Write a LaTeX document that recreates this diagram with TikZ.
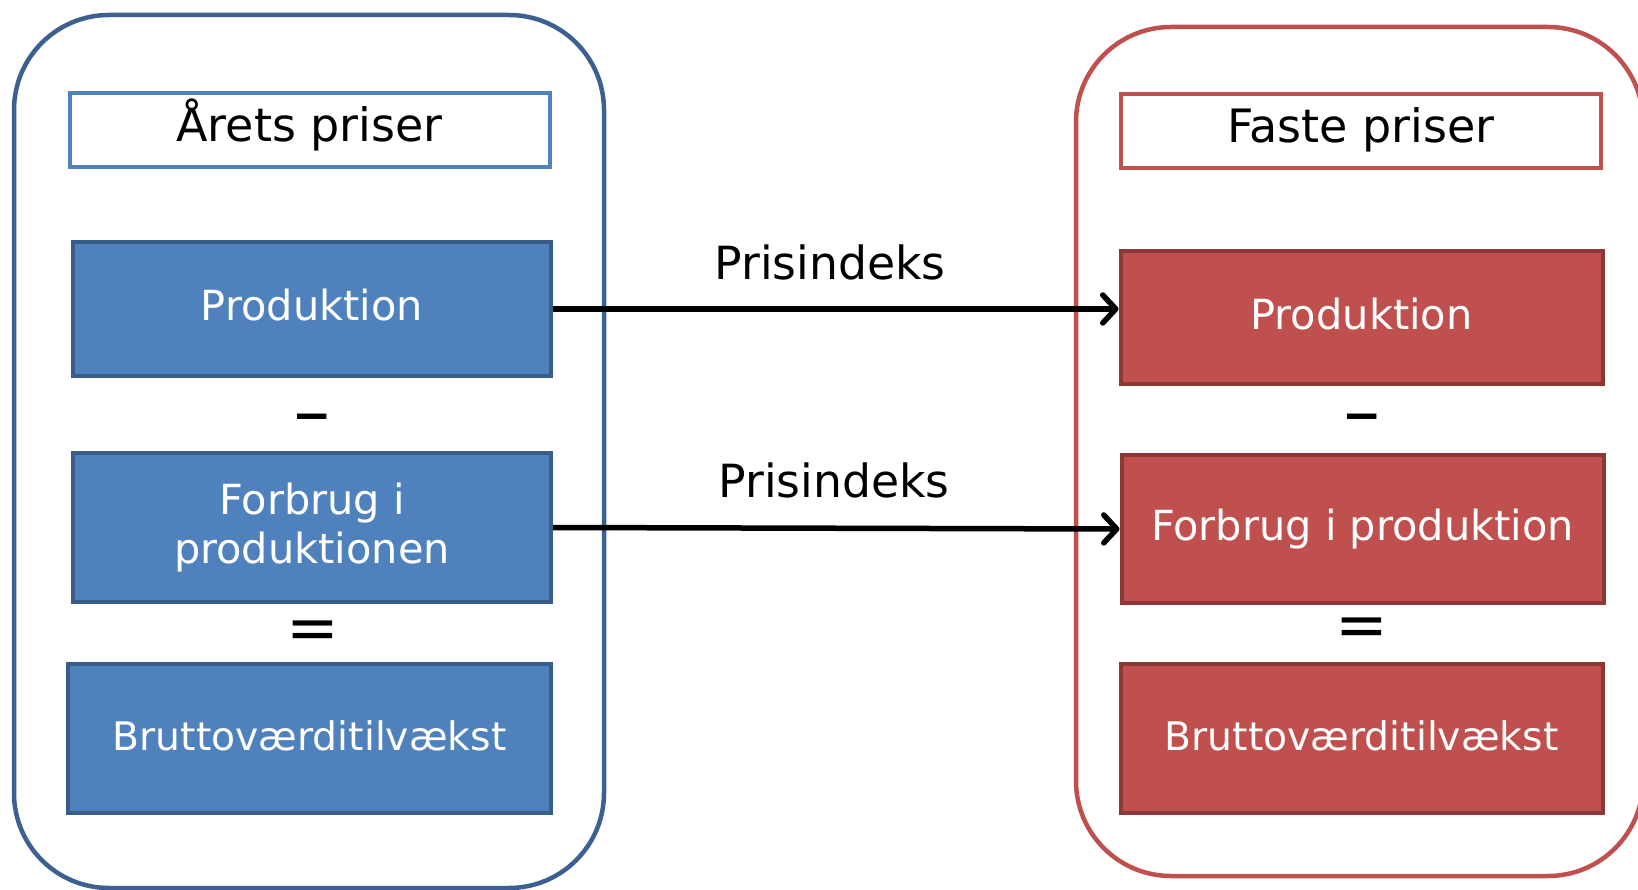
\documentclass[tikz,border=0pt]{standalone}
\usepackage{fontspec}
\setmainfont{DejaVu Sans}
\usetikzlibrary{arrows.meta}
\definecolor{bluefill}{HTML}{4F81BD}
\definecolor{blueline}{HTML}{385D8A}
\definecolor{outerblue}{HTML}{3C6191}
\definecolor{redfill}{HTML}{C0504D}
\definecolor{redline}{HTML}{8C3836}
\definecolor{outerred}{HTML}{C0504D}
\tikzset{
  outerbox/.style={line width=4.5pt, rounded corners=95pt},
  titlebox/.style={draw, line width=4pt, fill=white, inner sep=0pt, minimum width=480pt, minimum height=74pt, text height=35pt, text depth=13pt, font=\fontsize{46}{55}\selectfont},
  bluebox/.style={draw=blueline, fill=bluefill, line width=4pt, text=white, inner sep=0pt, align=center, minimum width=478pt},
  redbox/.style={draw=redline, fill=redfill, line width=4pt, text=white, inner sep=0pt, align=center, minimum width=482pt},
  boxtext/.style={font=\fontsize{41.5}{49}\selectfont},
  raised/.style={text height=32pt, text depth=8pt},
  bruttotext/.style={font=\fontsize{39.3}{47}\selectfont, text height=30pt, text depth=6pt},
  lbl/.style={font=\fontsize{45.7}{55}\selectfont, anchor=base, inner sep=0pt},
  minussign/.style={font=\bfseries\fontsize{47}{50}\selectfont, anchor=base, inner sep=0pt},
  eqsign/.style={font=\fontsize{63}{66}\selectfont, anchor=base, inner sep=0pt},
  conn/.style={line width=5.5pt, -{Straight Barb[length=13pt,width=28pt,line cap=round,line join=round]}}
}
\begin{document}
\begin{tikzpicture}[x=1pt,y=-1pt]
\clip (0,0) rectangle (1638,890);
\fill[white] (0,0) rectangle (1638,890);
% containers
\draw[outerbox, draw=outerblue] (14,15) rectangle (604,888);
\draw[outerbox, draw=outerred] (1076,27) rectangle (1643,876);
% titles
\node[titlebox, draw=bluefill] (lt) at (309.5,130.5) {Årets priser};
\node[titlebox, draw=redfill] (rt) at (1361,131.5) {Faste priser};
% left column
\node[bluebox, boxtext, raised, minimum height=134pt] (lp) at (312,309) {Produktion};
\node[minussign] (lm) at (312,431.5) {−};
\node[bluebox, boxtext, minimum height=149pt] (lf) at (312,527.5) {Forbrug i\\produktionen};
\node[eqsign] (le) at (313,649) {=};
\node[bluebox, bruttotext, minimum height=149pt, minimum width=483pt] (lb) at (309.5,738.5) {Bruttoværditilvækst};
% right column
\node[redbox, boxtext, raised, minimum height=133pt] (rp) at (1361.5,317.5) {Produktion};
\node[minussign] (rm) at (1362,431.5) {−};
\node[redbox, boxtext, minimum height=148pt] (rf) at (1362.5,529) {Forbrug i produktion};
\node[eqsign] (re) at (1362,646) {=};
\node[redbox, bruttotext, minimum height=149pt] (rb) at (1361.5,738.5) {Bruttoværditilvækst};
% connectors
\draw[conn] (lp.east) -- (lp.east -| rp.west);
\draw[conn] (lf.east) -- (rf.west);
\node[lbl] (l1) at (830,280) {Prisindeks};
\node[lbl] (l2) at (834,497) {Prisindeks};
\end{tikzpicture}
\end{document}
